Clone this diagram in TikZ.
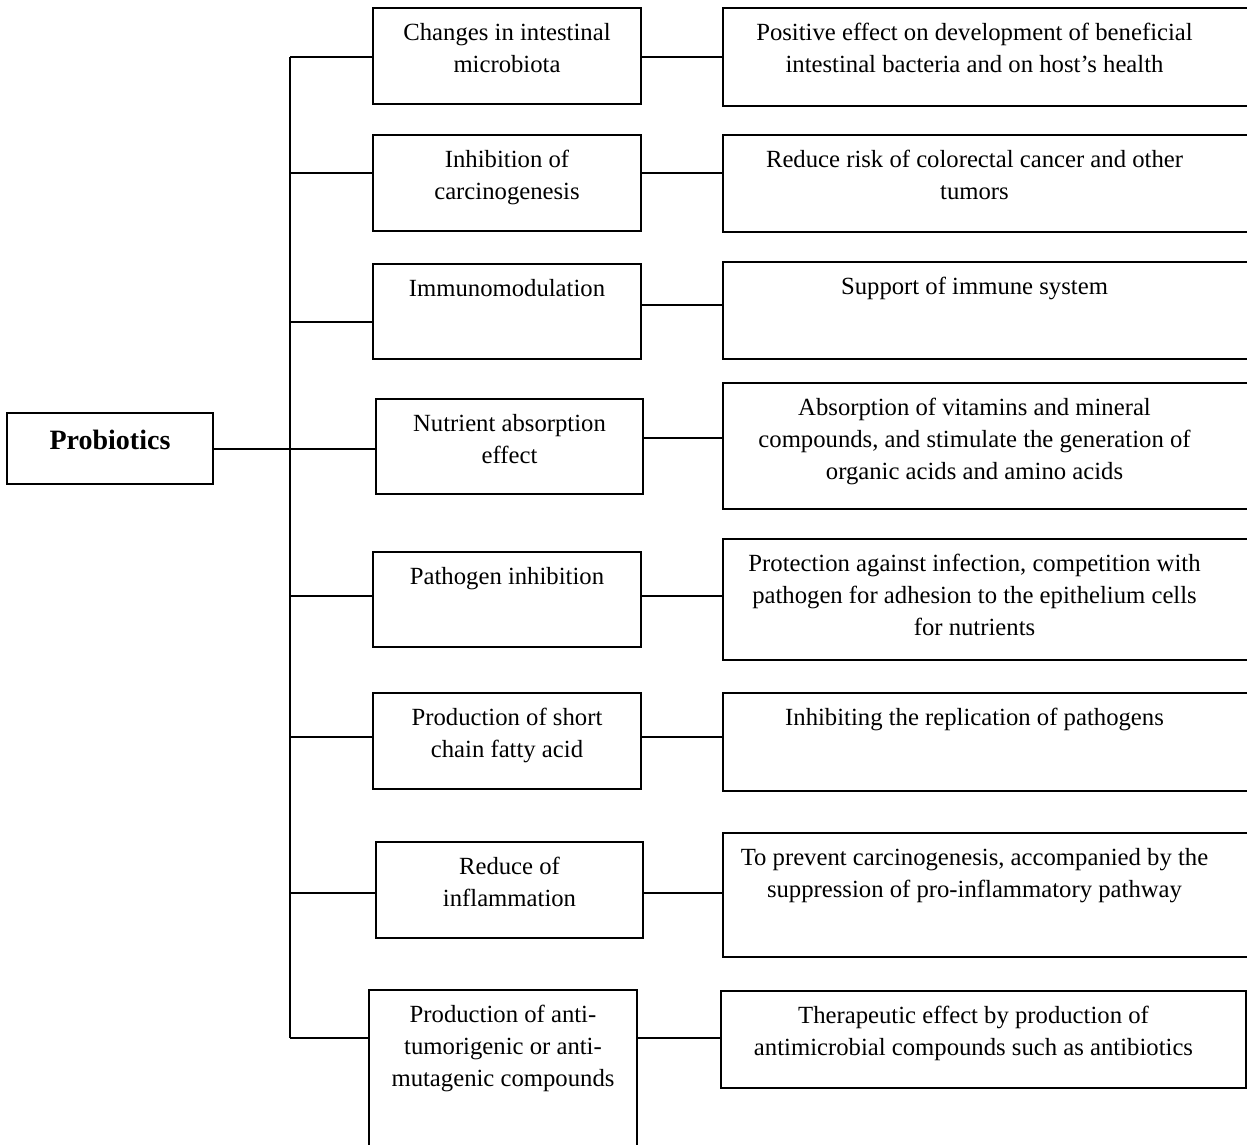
\documentclass[tikz,border=0pt]{standalone}
\usepackage{fontspec}
\setmainfont{Liberation Serif}
\usetikzlibrary{positioning}
\tikzset{
  mbox/.style={rectangle, draw=black, line width=2pt, inner sep=0pt,
    outer sep=0pt, anchor=north west},
  btext/.style={anchor=north, align=center, inner sep=0pt,
    font=\fontsize{24.7}{32}\selectfont},
  link/.style={line width=2pt, color=black}
}

\begin{document}
\begin{tikzpicture}[x=1pt, y=-1pt]
  \useasboundingbox (0,0) rectangle (1247,1145);
  % Root
  \node[mbox, minimum width=206pt, minimum height=71pt, text depth=18pt,
    font=\bfseries\fontsize{28}{34}\selectfont] (pro) at (7,413) {Probiotics};
  % Effects
  \node[mbox, minimum width=268pt, minimum height=96pt] (m1) at (373,8) {};
  \node[mbox, minimum width=268pt, minimum height=96pt] (m2) at (373,135) {};
  \node[mbox, minimum width=268pt, minimum height=95pt] (m3) at (373,264) {};
  \node[mbox, minimum width=267pt, minimum height=95pt] (m4) at (376,399) {};
  \node[mbox, minimum width=268pt, minimum height=95pt] (m5) at (373,552) {};
  \node[mbox, minimum width=268pt, minimum height=96pt] (m6) at (373,693) {};
  \node[mbox, minimum width=267pt, minimum height=96pt] (m7) at (376,842) {};
  \node[mbox, minimum width=268pt, minimum height=170pt] (m8) at (369,990) {};
  \node[btext, below=9.6pt of m1.north] (m1t) {\strut Changes in intestinal\\microbiota};
  \node[btext, below=9.6pt of m2.north] (m2t) {\strut Inhibition of\\carcinogenesis};
  \node[btext, below=9.6pt of m3.north] (m3t) {\strut Immunomodulation};
  \node[btext, below=9.6pt of m4.north] (m4t) {\strut Nutrient absorption\\effect};
  \node[btext, below=9.6pt of m5.north] (m5t) {\strut Pathogen inhibition};
  \node[btext, below=9.6pt of m6.north] (m6t) {\strut Production of short\\chain fatty acid};
  \node[btext, below=9.6pt of m7.north] (m7t) {\strut Reduce of\\inflammation};
  \node[btext, below=9.6pt of m8.north] (m8t) {\strut Production of anti-\\tumorigenic or anti-\\mutagenic compounds};
  % Outcomes
  \node[mbox, minimum width=527pt, minimum height=98pt] (r1) at (723,8) {};
  \node[mbox, minimum width=527pt, minimum height=97pt] (r2) at (723,135) {};
  \node[mbox, minimum width=527pt, minimum height=97pt] (r3) at (723,262) {};
  \node[mbox, minimum width=527pt, minimum height=126pt] (r4) at (723,383) {};
  \node[mbox, minimum width=527pt, minimum height=121pt] (r5) at (723,539) {};
  \node[mbox, minimum width=527pt, minimum height=98pt] (r6) at (723,693) {};
  \node[mbox, minimum width=527pt, minimum height=124pt] (r7) at (723,833) {};
  \node[mbox, minimum width=525pt, minimum height=97pt] (r8) at (721,991) {};
  \node[btext, below=9.6pt of r1.north, xshift=-12pt] (r1t) {\strut Positive effect on development of beneficial\\intestinal bacteria and on host’s health};
  \node[btext, below=9.6pt of r2.north, xshift=-12pt] (r2t) {\strut Reduce risk of colorectal cancer and other\\tumors};
  \node[btext, below=9.6pt of r3.north, xshift=-12pt] (r3t) {\strut Support of immune system};
  \node[btext, below=9.6pt of r4.north, xshift=-12pt] (r4t) {\strut Absorption of vitamins and mineral\\compounds, and stimulate the generation of\\organic acids and amino acids};
  \node[btext, below=9.6pt of r5.north, xshift=-12pt] (r5t) {\strut Protection against infection, competition with\\pathogen for adhesion to the epithelium cells\\for nutrients};
  \node[btext, below=9.6pt of r6.north, xshift=-12pt] (r6t) {\strut Inhibiting the replication of pathogens};
  \node[btext, below=9.6pt of r7.north, xshift=-12pt] (r7t) {\strut To prevent carcinogenesis, accompanied by the\\suppression of pro-inflammatory pathway};
  \node[btext, below=9.6pt of r8.north, xshift=-10pt] (r8t) {\strut Therapeutic effect by production of\\antimicrobial compounds such as antibiotics};
  % Trunk
  \coordinate (j1) at (290,57);
  \coordinate (j2) at (290,173);
  \coordinate (j3) at (290,322);
  \coordinate (j5) at (290,596);
  \coordinate (j6) at (290,737);
  \coordinate (j7) at (290,893);
  \coordinate (j8) at (290,1038);
  \coordinate (k3) at (0,305);
  \coordinate (k4) at (0,438);
  \draw[link] (j1) -- (j8);
  \draw[link] (pro.east) -- (pro.east -| m4.west);
  \draw[link] (j1) -- (j1 -| m1.west);
  \draw[link] (j2) -- (j2 -| m2.west);
  \draw[link] (j3) -- (j3 -| m3.west);
  \draw[link] (j5) -- (j5 -| m5.west);
  \draw[link] (j6) -- (j6 -| m6.west);
  \draw[link] (j7) -- (j7 -| m7.west);
  \draw[link] (j8) -- (j8 -| m8.west);
  % Effect to outcome
  \draw[link] (m1.east |- j1) -- (r1.west |- j1);
  \draw[link] (m2.east |- j2) -- (r2.west |- j2);
  \draw[link] (m3.east |- k3) -- (r3.west |- k3);
  \draw[link] (m4.east |- k4) -- (r4.west |- k4);
  \draw[link] (m5.east |- j5) -- (r5.west |- j5);
  \draw[link] (m6.east |- j6) -- (r6.west |- j6);
  \draw[link] (m7.east |- j7) -- (r7.west |- j7);
  \draw[link] (m8.east |- j8) -- (r8.west |- j8);
\end{tikzpicture}
\end{document}
